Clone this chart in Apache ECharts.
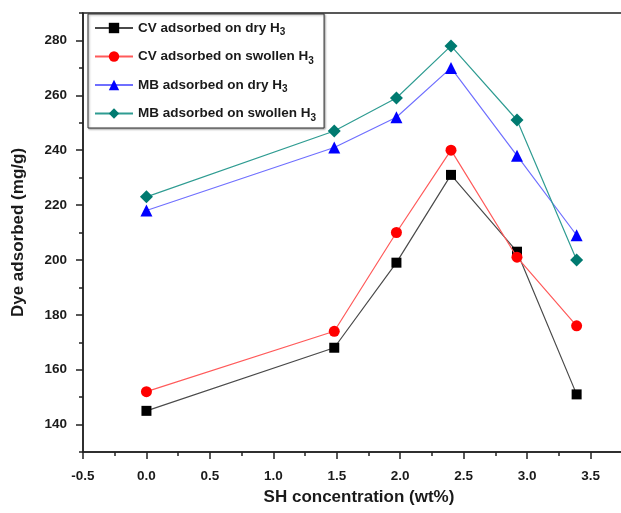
<!DOCTYPE html>
<html>
<head>
<meta charset="utf-8">
<script src="https://cdn.jsdelivr.net/npm/echarts@6/dist/echarts.min.js"></script>
<style>
  html, body { margin: 0; padding: 0; background: #fff; }
  #chart { width: 621px; height: 513px; }
</style>
</head>
<body>
<div id="chart"></div>
<script>
// SH concentration (wt%) for each sample
const shConcentration = [0, 1.48, 1.97, 2.4, 2.92, 3.39];

// Dye adsorbed (mg/g)
const cvDry      = [145, 168, 199, 231, 203, 151];
const cvSwollen  = [152, 174, 210, 240, 201, 176];
const mbDry      = [218, 241, 252, 270, 238, 209];
const mbSwollen  = [223, 247, 259, 278, 251, 200];

// Series names (the trailing "3" is set as a subscript)
const seriesNames = [
  'CV adsorbed on dry H3',
  'CV adsorbed on swollen H3',
  'MB adsorbed on dry H3',
  'MB adsorbed on swollen H3'
];

// Axis ticks
const xMajorTicks = [-0.5, 0, 0.5, 1, 1.5, 2, 2.5, 3, 3.5];
const xMinorTicks = [-0.25, 0.25, 0.75, 1.25, 1.75, 2.25, 2.75, 3.25, 3.75];
const yMajorTicks = [140, 160, 180, 200, 220, 240, 260, 280];
const yMinorTicks = [130, 150, 170, 190, 210, 230, 250, 270, 290];

const FONT = '"Liberation Sans", Arial, sans-serif';
const X_MIN = -0.5, X_MAX = 3.85, Y_MIN = 130, Y_MAX = 290;

function pairs(ys) {
  return ys.map((v, i) => [shConcentration[i], v]);
}

const styles = [
  { data: cvDry,     symbol: 'rect',     size: 10, fill: '#000000', line: '#4a4a4a' },
  { data: cvSwollen, symbol: 'circle',   size: 11, fill: '#ff0000', line: '#ff5a5a' },
  { data: mbDry,     symbol: 'triangle', size: 12, fill: '#0000ff', line: '#6f6fff' },
  { data: mbSwollen, symbol: 'diamond',  size: 13, fill: '#007a70', line: '#2f9c92' }
];

const chart = echarts.init(document.getElementById('chart'), null, { renderer: 'canvas' });

const axisLabelStyle = { fontFamily: FONT, fontWeight: 'bold', fontSize: 13.5, color: '#1a1a1a' };
const tickStyle = { color: '#222', width: 1.5 };

chart.setOption({
  animation: false,
  backgroundColor: '#ffffff',
  grid: {
    left: 83, top: 13, bottom: 61, right: -14,
    show: true, borderColor: '#222', borderWidth: 1.5,
    containLabel: false, outerBoundsMode: 'none'
  },
  legend: {
    orient: 'vertical',
    left: 88, top: 14,
    padding: [7, 8, 5, 6],
    itemWidth: 38, itemHeight: 13, itemGap: 12,
    borderColor: '#333', borderWidth: 1,
    shadowColor: 'rgba(0,0,0,0.35)', shadowBlur: 2, shadowOffsetX: 1, shadowOffsetY: 1,
    backgroundColor: '#fff',
    data: seriesNames,
    formatter: function (name) {
      return '{m|' + name.slice(0, -1) + '}{s|' + name.slice(-1) + '}';
    },
    textStyle: {
      fontFamily: FONT, fontWeight: 'bold', fontSize: 13.5, color: '#1a1a1a',
      rich: {
        m: { fontFamily: FONT, fontWeight: 'bold', fontSize: 13.5, color: '#1a1a1a' },
        s: { fontFamily: FONT, fontWeight: 'bold', fontSize: 10, color: '#1a1a1a', padding: [9, 0, 0, 0] }
      }
    }
  },
  xAxis: [
    {
      type: 'value', min: X_MIN, max: X_MAX, position: 'bottom',
      name: 'SH concentration (wt%)', nameLocation: 'middle', nameGap: 37,
      nameTextStyle: { fontFamily: FONT, fontWeight: 'bold', fontSize: 17, color: '#1a1a1a' },
      axisLine: { show: true, onZero: false, lineStyle: tickStyle },
      axisTick: { show: true, customValues: xMajorTicks, length: 7, lineStyle: tickStyle },
      axisLabel: Object.assign({ customValues: xMajorTicks, margin: 17,
        formatter: v => v.toFixed(1) }, axisLabelStyle),
      splitLine: { show: false }
    },
    {
      type: 'value', min: X_MIN, max: X_MAX, position: 'bottom',
      axisLine: { show: false, onZero: false },
      axisTick: { show: true, customValues: xMinorTicks, length: 4, lineStyle: tickStyle },
      axisLabel: { show: false },
      splitLine: { show: false }
    }
  ],
  yAxis: [
    {
      type: 'value', min: Y_MIN, max: Y_MAX, position: 'left',
      name: 'Dye adsorbed (mg/g)', nameLocation: 'middle', nameGap: 56,
      nameTextStyle: { fontFamily: FONT, fontWeight: 'bold', fontSize: 17, color: '#1a1a1a' },
      axisLine: { show: true, onZero: false, lineStyle: tickStyle },
      axisTick: { show: true, customValues: yMajorTicks, length: 7, lineStyle: tickStyle },
      axisLabel: Object.assign({ customValues: yMajorTicks, margin: 16 }, axisLabelStyle),
      splitLine: { show: false }
    },
    {
      type: 'value', min: Y_MIN, max: Y_MAX, position: 'left',
      axisLine: { show: false, onZero: false },
      axisTick: { show: true, customValues: yMinorTicks, length: 4, lineStyle: tickStyle },
      axisLabel: { show: false },
      splitLine: { show: false }
    }
  ],
  series: styles.map((s, i) => ({
    name: seriesNames[i],
    type: 'line',
    xAxisIndex: 0, yAxisIndex: 0,
    data: pairs(s.data),
    symbol: s.symbol,
    symbolSize: s.size,
    showAllSymbol: true,
    lineStyle: { color: s.line, width: 1.2 },
    itemStyle: { color: s.fill, borderWidth: 0 },
    emphasis: { disabled: true },
    z: 2 + i
  }))
});
</script>
</body>
</html>
